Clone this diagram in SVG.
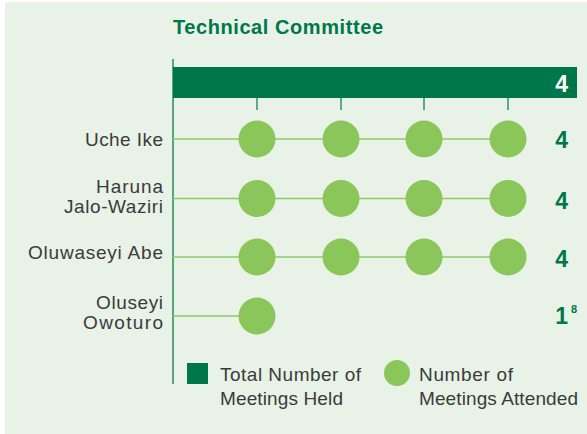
<svg xmlns="http://www.w3.org/2000/svg" width="587" height="434" viewBox="0 0 587 434">
<style>
.lbl{font-family:"Liberation Sans",Arial,sans-serif;font-size:19px;fill:#3b3b3b;text-anchor:end}
.leg{font-family:"Liberation Sans",Arial,sans-serif;font-size:19px;fill:#3b3b3b}
.num{font-family:"Liberation Sans",Arial,sans-serif;font-size:23px;font-weight:bold;fill:#00774a}
.dot{fill:#8bc65a}
.row{stroke:#8fca66;stroke-width:1.6}
.tick{stroke:#00774a;stroke-width:1.2}
</style>
<rect x="5" y="2" width="582" height="432" fill="#e8f2e6"/>
<text x="173" y="34" font-family="Liberation Sans,Arial,sans-serif" font-size="20" font-weight="bold" fill="#00774a" textLength="210">Technical Committee</text>
<g id="axis">
<line x1="173" y1="59" x2="173" y2="384" stroke="#2a8a5c" stroke-width="1.5"/>
<line class="tick" x1="257" y1="98" x2="257" y2="110"/>
<line class="tick" x1="341" y1="98" x2="341" y2="110"/>
<line class="tick" x1="424" y1="98" x2="424" y2="110"/>
<line class="tick" x1="508" y1="98" x2="508" y2="110"/>
</g>
<g id="total-bar">
<rect x="173" y="67" width="404" height="31" fill="#00774a"/>
<text x="568" y="92" font-family="Liberation Sans,Arial,sans-serif" font-size="23" font-weight="bold" fill="#ffffff" text-anchor="end">4</text>
</g>
<g id="connectors">
<line class="row" x1="173" y1="139" x2="508" y2="139"/>
<line class="row" x1="173" y1="198.5" x2="508" y2="198.5"/>
<line class="row" x1="173" y1="257" x2="508" y2="257"/>
<line class="row" x1="173" y1="316" x2="257" y2="316"/>
</g>
<g id="row-uche-ike">
<text class="lbl" x="163" y="146" textLength="78">Uche Ike</text>
<circle class="dot" cx="257" cy="139" r="18.5"/>
<circle class="dot" cx="341" cy="139" r="18.5"/>
<circle class="dot" cx="424" cy="139" r="18.5"/>
<circle class="dot" cx="508" cy="139" r="18.5"/>
<text class="num" x="568" y="148" text-anchor="end">4</text>
</g>
<g id="row-haruna">
<text class="lbl" x="163" y="193" textLength="67">Haruna</text>
<text class="lbl" x="163" y="213" textLength="99">Jalo-Waziri</text>
<circle class="dot" cx="257" cy="198.5" r="18.5"/>
<circle class="dot" cx="341" cy="198.5" r="18.5"/>
<circle class="dot" cx="424" cy="198.5" r="18.5"/>
<circle class="dot" cx="508" cy="198.5" r="18.5"/>
<text class="num" x="568" y="209" text-anchor="end">4</text>
</g>
<g id="row-oluwaseyi-abe">
<text class="lbl" x="163" y="259" textLength="135">Oluwaseyi Abe</text>
<circle class="dot" cx="257" cy="257" r="18.5"/>
<circle class="dot" cx="341" cy="257" r="18.5"/>
<circle class="dot" cx="424" cy="257" r="18.5"/>
<circle class="dot" cx="508" cy="257" r="18.5"/>
<text class="num" x="568" y="267" text-anchor="end">4</text>
</g>
<g id="row-oluseyi">
<text class="lbl" x="163" y="309" textLength="67">Oluseyi</text>
<text class="lbl" x="163" y="329" textLength="80">Owoturo</text>
<circle class="dot" cx="257" cy="316" r="18.5"/>
<text class="num" x="568" y="324" text-anchor="end">1</text>
<text x="571" y="313" font-family="Liberation Sans,Arial,sans-serif" font-size="11" font-weight="bold" fill="#00774a">8</text>
</g>
<g id="legend">
<rect x="187" y="363" width="21" height="21" fill="#00774a"/>
<text class="leg" x="220" y="381" textLength="141">Total Number of</text>
<text class="leg" x="220" y="405" textLength="123">Meetings Held</text>
<circle class="dot" cx="397" cy="373" r="13"/>
<text class="leg" x="419" y="381" textLength="94">Number of</text>
<text class="leg" x="419" y="405" textLength="159">Meetings Attended</text>
</g>
</svg>
